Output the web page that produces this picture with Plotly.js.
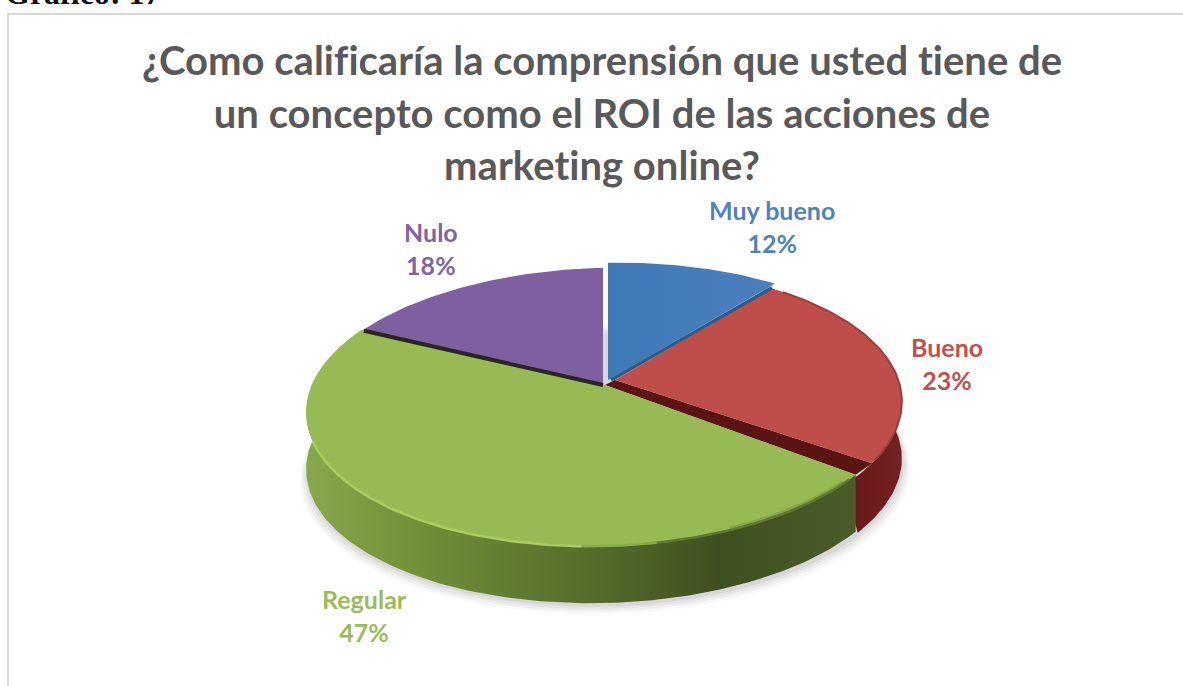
<!DOCTYPE html>
<html>
<head>
<meta charset="utf-8">
<script src="https://cdn.plot.ly/plotly-3.0.1.min.js"></script>
<style>html,body{margin:0;padding:0;background:#fff;overflow:hidden} svg text{font-variant-ligatures:none;font-feature-settings:"liga" 0,"clig" 0,"dlig" 0;letter-spacing:0.01px}</style>
</head>
<body>
<div id="chart" style="width:1183px;height:686px"></div>
<script>
// ---- data ----
const categories = ['Muy bueno', 'Bueno', 'Regular', 'Nulo'];
const percents = [12, 23, 47, 18];
const sliceColors = ['#4a7dba', '#bf4e4b', '#97ba55', '#7e60a0'];
const labelColors = ['#4f81bd', '#c0504d', '#9bbb59', '#8064a2'];
const labelX = [772, 947, 364, 431];
const labelY = [226, 363, 615, 248];
const titleLines = ['¿Como calificaría la comprensión que usted tiene de', 'un concepto como el ROI de las acciones de', 'marketing online?'];

// ---- 3-D projection of the pie ----
const apexX = 605, apexY = 385, radX = 293, radY = 136, persp = 0.161, depth = 57, warp = 3.4, tilt = 0.02;
const offsets = [[3, -5], [0, 0], [-2, -1], [-2, 0]];
const apexShift = [[0, 0], [10, -5], [2, 1], [0, 0]];
const trims = [[0, 0], [0, -5], [0, 0], [0, 0]];

function project(deg, off) {
  const d = deg - warp * Math.sin(2 * deg * Math.PI / 180);
  const t = d * Math.PI / 180, u = Math.sin(t), v = Math.cos(t), w = 1 + persp * v;
  const x = radX * u / w, y = radY * v / w;
  return [apexX + off[0] + x, apexY + off[1] - y - tilt * x];
}
function arc(a, b, off) {
  const pts = [], n = Math.max(2, Math.ceil(Math.abs(b - a)));
  for (let i = 0; i <= n; i++) pts.push(project(a + (b - a) * i / n, off));
  return pts;
}
const total = percents.reduce((s, v) => s + v, 0);
let acc = 0;
const bounds = percents.map(v => { const a = acc; acc += v; return [a / total * 360, acc / total * 360]; });

const traces = [];
function poly(pts, color, grad) {
  const t = { x: pts.map(p => p[0]), y: pts.map(p => p[1]), type: 'scatter', mode: 'lines', fill: 'toself',
    line: { width: 0 }, fillcolor: color, hoverinfo: 'skip', showlegend: false };
  if (grad) t.fillgradient = { type: 'horizontal', colorscale: grad };
  traces.push(t);
}
function stroke(pts, color, width) {
  traces.push({ x: pts.map(p => p[0]), y: pts.map(p => p[1]), type: 'scatter', mode: 'lines',
    line: { color, width }, hoverinfo: 'skip', showlegend: false });
}
const apexOf = i => [apexX + offsets[i][0] + apexShift[i][0], apexY + offsets[i][1] + apexShift[i][1]];

// soft shadow under the pie
[[16, 0.035], [12, 0.05], [8, 0.06], [4, 0.07]].forEach(s => {
  const pts = arc(0, 360, [0, depth + s[0] * 0.6]).map(p => [apexX + (p[0] - apexX) * (1 + s[0] / 600), p[1]]);
  poly(pts, 'rgba(60,60,60,' + s[1] + ')');
});

// side walls (red's top edge runs a little under the green wall so no gap shows)
const wallGrad = {
  1: [[0, '#551212'], [0.5, '#661818'], [1, '#732020']],
  2: [[0, '#87a84a'], [0.22, '#6f8e38'], [0.5, '#566f2c'], [0.75, '#3f5020'], [1, '#4a5c28']]
};
[1, 2].forEach(i => {
  const end = bounds[i][1], start = bounds[i][0];
  const top = arc(start, i === 1 ? end + 4 : end, offsets[i]);
  const bot = arc(end, start, [offsets[i][0], offsets[i][1] + depth]);
  poly(top.concat(bot), sliceColors[i], wallGrad[i]);
});

// cut face of the red slice, seen between red and green
poly([apexOf(1), project(bounds[1][1] + trims[1][1], offsets[1]), project(bounds[2][0], offsets[2]), apexOf(2)], '#5a1414');

// top faces
[3, 2, 1, 0].forEach(i => {
  const rim = arc(bounds[i][0] + trims[i][0], bounds[i][1] + trims[i][1], offsets[i]);
  poly([apexOf(i)].concat(rim), sliceColors[i], i === 0 ? [[0, '#4079b8'], [1, '#4a7fbc']] : null);
});

// dark cut lines between slices
stroke([[apexX - 2, apexY], project(bounds[3][0], [0, 0])], '#2a2626', 4);
stroke([[apexX + 6, apexY - 5], project(bounds[0][1], [0, -1])], '#2b5c8e', 3.5);

// rim shading
stroke(arc(bounds[1][0] + 3, bounds[1][1] - 6, [0, 0]), '#9a3d3b', 2);
stroke(arc(bounds[2][0] + 4, bounds[2][0] + 30, [offsets[2][0], offsets[2][1] - 2]), '#84a548', 3);
stroke(arc(bounds[2][0] + 2, bounds[2][0] + 46, offsets[2]), '#5f7a30', 2.5);
stroke(arc(bounds[2][0] + 44, bounds[2][0] + 60, offsets[2]), '#8aac4b', 2.5);
stroke(arc(bounds[2][0] + 58, bounds[2][0] + 125, offsets[2]), '#aacd60', 2.5);

// labels
const annotations = categories.map((c, i) => ({
  xref: 'x', yref: 'y', x: labelX[i], y: labelY[i], showarrow: false, xanchor: 'center', yanchor: 'middle',
  text: '<span style="font-size:25px"><b>' + c + '<br>' + percents[i] + '%</b></span>',
  font: { family: 'Lato', size: 25.5, color: labelColors[i] }
}));
annotations.push({
  xref: 'paper', yref: 'paper', x: 8 / 1183, y: 1, xanchor: 'left', yanchor: 'top', yshift: 27, xshift: -5, showarrow: false,
  text: '<b>Gráfico: 17</b>',
  font: { family: 'Liberation Serif', size: 32, color: '#111111' }
});

const layout = {
  width: 1183, height: 686, margin: { l: 0, r: 0, t: 0, b: 0 }, paper_bgcolor: '#fff', plot_bgcolor: '#fff',
  showlegend: false, hovermode: false,
  title: {
    text: titleLines.map(l => '<span style="font-size:40px"><b>' + l + '</b></span>').join('<br>'),
    x: 602 / 1183, xanchor: 'center', xref: 'paper', y: 1 - 75 / 686, yanchor: 'top', yref: 'container',
    font: { family: 'Lato', size: 40.5, color: '#595959' }
  },
  xaxis: { range: [0, 1183], visible: false, fixedrange: true },
  yaxis: { range: [686, 0], visible: false, fixedrange: true },
  annotations,
  shapes: [
    { type: 'line', xref: 'x', yref: 'y', x0: 8, x1: 1183, y0: 14, y1: 14, line: { color: '#d9d9d9', width: 2 } },
    { type: 'line', xref: 'x', yref: 'y', x0: 8, x1: 8, y0: 13, y1: 686, line: { color: '#d9d9d9', width: 2 } }
  ]
};
Plotly.newPlot('chart', traces, layout, { displayModeBar: false, staticPlot: true });
</script>
</body>
</html>
